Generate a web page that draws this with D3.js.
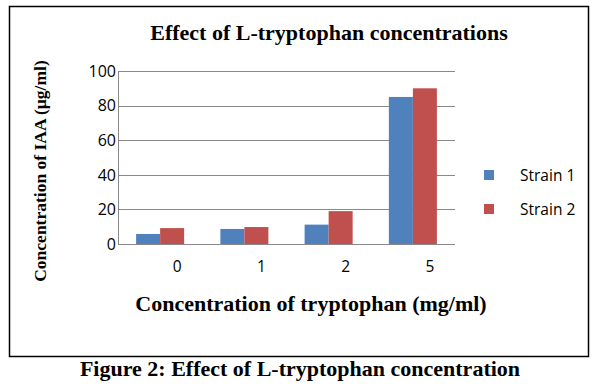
<!DOCTYPE html>
<html>
<head>
<meta charset="utf-8">
<script src="https://cdn.jsdelivr.net/npm/d3@7"></script>
<style>
  body { margin: 0; background: #fff; }
  svg { display: block; }
</style>
</head>
<body>
<div id="chart"></div>
<script>
const categories = ['0', '1', '2', '5'];
const seriesNames = ['Strain 1', 'Strain 2'];
const strain1 = [5.8, 8.7, 11.2, 85];
const strain2 = [9.2, 9.8, 19, 90];
const yTicks = [0, 20, 40, 60, 80, 100];
const colors = ['#4f81bd', '#c0504d'];

const width = 598, height = 390;
const margin = {top: 71, left: 118, right: 143, bottom: 146};

const svg = d3.select('#chart').append('svg')
  .attr('width', width)
  .attr('height', height);

const serif = '"Liberation Serif", "Times New Roman", serif';
const sans = '"Open Sans", "Liberation Sans", sans-serif';

// outer frame
svg.append('rect')
  .attr('x', 9.5).attr('y', 6.5)
  .attr('width', 579).attr('height', 350)
  .attr('fill', 'none')
  .attr('stroke', '#000')
  .attr('stroke-width', 1.5);

const x = d3.scaleBand()
  .domain(categories)
  .range([margin.left, width - margin.right])
  .paddingInner(0.43)
  .paddingOuter(0.215);

const xs = d3.scaleBand()
  .domain(seriesNames)
  .range([0, x.bandwidth()]);

const y = d3.scaleLinear()
  .domain([0, 100])
  .range([height - margin.bottom, margin.top]);

// gridlines
svg.append('g')
  .selectAll('line')
  .data(yTicks)
  .join('line')
  .attr('x1', margin.left)
  .attr('x2', width - margin.right)
  .attr('y1', d => Math.round(y(d)) + 0.5)
  .attr('y2', d => Math.round(y(d)) + 0.5)
  .attr('stroke', '#888');

// y axis line
svg.append('line')
  .attr('x1', margin.left + 0.5).attr('x2', margin.left + 0.5)
  .attr('y1', y(100)).attr('y2', y(0) + 0.5)
  .attr('stroke', '#888');

// y tick labels
svg.append('g')
  .selectAll('text')
  .data(yTicks)
  .join('text')
  .attr('x', margin.left - 2)
  .attr('y', d => y(d))
  .attr('dy', '0.36em')
  .attr('text-anchor', 'end')
  .attr('font-family', sans)
  .attr('font-size', 16)
  .attr('fill', '#000')
  .text(d => d);

// bars
const data = categories.map((c, i) => ({cat: c, values: [strain1[i], strain2[i]]}));

const groups = svg.append('g')
  .selectAll('g')
  .data(data)
  .join('g')
  .attr('transform', d => `translate(${x(d.cat)},0)`);

groups.selectAll('rect')
  .data(d => d.values.map((v, j) => ({name: seriesNames[j], value: v, j})))
  .join('rect')
  .attr('x', d => xs(d.name))
  .attr('y', d => y(d.value))
  .attr('width', xs.bandwidth())
  .attr('height', d => y(0) - y(d.value))
  .attr('fill', d => colors[d.j]);

// x tick labels (Excel places them a little right of center)
svg.append('g')
  .selectAll('text')
  .data(categories)
  .join('text')
  .attr('x', d => x(d) + x.bandwidth() / 2 + 17)
  .attr('y', 266)
  .attr('dy', '0.36em')
  .attr('text-anchor', 'middle')
  .attr('font-family', sans)
  .attr('font-size', 15.5)
  .text(d => d);

// title
svg.append('text')
  .attr('x', 329).attr('y', 40)
  .attr('text-anchor', 'middle')
  .attr('font-family', serif)
  .attr('font-weight', 'bold')
  .attr('font-size', 22)
  .text('Effect of L-tryptophan concentrations');

// y axis title
svg.append('text')
  .attr('transform', 'translate(46,171) rotate(-90)')
  .attr('text-anchor', 'middle')
  .attr('font-family', serif)
  .attr('font-weight', 'bold')
  .attr('font-size', 17.5)
  .text('Concentration of IAA (µg/ml)');

// x axis title
svg.append('text')
  .attr('x', 311).attr('y', 311)
  .attr('text-anchor', 'middle')
  .attr('font-family', serif)
  .attr('font-weight', 'bold')
  .attr('font-size', 22)
  .text('Concentration of tryptophan (mg/ml)');

// legend
const legend = svg.append('g')
  .selectAll('g')
  .data(seriesNames)
  .join('g')
  .attr('transform', (d, i) => `translate(484,${175 + i * 34})`);

legend.append('rect')
  .attr('x', 0).attr('y', -5)
  .attr('width', 10).attr('height', 10)
  .attr('fill', (d, i) => colors[i]);

legend.append('text')
  .attr('x', 36).attr('y', 0)
  .attr('dy', '0.36em')
  .attr('font-family', sans)
  .attr('font-size', 15.5)
  .text(d => d);

// caption
svg.append('text')
  .attr('x', 300).attr('y', 376)
  .attr('text-anchor', 'middle')
  .attr('font-family', serif)
  .attr('font-weight', 'bold')
  .attr('font-size', 22)
  .text('Figure 2: Effect of L-tryptophan concentration');
</script>
</body>
</html>
